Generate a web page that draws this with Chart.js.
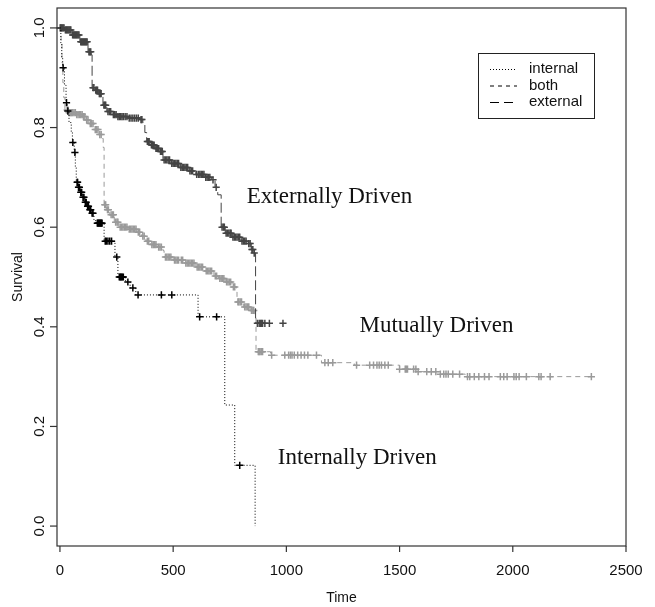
<!DOCTYPE html>
<html>
<head>
<meta charset="utf-8">
<script src="https://cdn.jsdelivr.net/npm/chart.js@4.4.0/dist/chart.umd.min.js"></script>
<style>
body { margin: 0; background: #fff; }
</style>
</head>
<body>
<canvas id="survChart" width="655" height="607"></canvas>
<script>
// Kaplan-Meier steps: event times and survival just after each event
var internalTimes = [0, 4, 8, 12, 20, 27, 33, 40, 50, 55, 63, 68, 72, 80, 90, 100, 110, 120, 130, 140, 150, 158, 195, 243, 256, 290, 310, 335, 610, 728, 772, 862];
var internalSurv  = [1.0, 0.97, 0.94, 0.92, 0.885, 0.85, 0.833, 0.81, 0.79, 0.77, 0.75, 0.72, 0.69, 0.68, 0.67, 0.66, 0.65, 0.642, 0.635, 0.628, 0.615, 0.608, 0.572, 0.54, 0.5, 0.49, 0.478, 0.464, 0.42, 0.243, 0.122, 0.0];
var internalCensor = [14, 29, 35, 57, 66, 76, 78, 82, 86, 92, 96, 102, 106, 112, 116, 122, 126, 132, 136, 142, 146, 165, 168, 171, 174, 177, 180, 183, 186, 200, 205, 212, 220, 228, 251, 262, 266, 269, 272, 276, 280, 300, 322, 345, 448, 494, 617, 692, 794];

var bothTimes = [0, 5, 9, 13, 17, 22, 40, 70, 100, 115, 130, 150, 170, 185, 191, 195, 205, 220, 240, 260, 300, 340, 360, 380, 400, 430, 455, 460, 500, 550, 600, 640, 680, 700, 730, 760, 780, 782, 810, 840, 860, 866, 930, 1155, 1300, 1500, 1580, 1680, 1790, 2347];
var bothSurv  = [1.0, 0.97, 0.93, 0.89, 0.86, 0.835, 0.83, 0.826, 0.822, 0.815, 0.808, 0.796, 0.786, 0.778, 0.76, 0.645, 0.635, 0.625, 0.61, 0.6, 0.596, 0.59, 0.582, 0.572, 0.565, 0.56, 0.553, 0.54, 0.534, 0.528, 0.52, 0.512, 0.502, 0.497, 0.49, 0.48, 0.47, 0.45, 0.44, 0.433, 0.426, 0.35, 0.343, 0.328, 0.323, 0.315, 0.31, 0.305, 0.3, 0.3];
var bothCensor = [1, 3, 32, 36, 40, 44, 48, 52, 56, 62, 68, 74, 80, 86, 92, 98, 104, 110, 118, 124, 134, 140, 146, 156, 162, 168, 176, 182,
  198, 202, 210, 214, 226, 232, 236, 246, 252, 256, 266, 272, 278, 284, 290, 296, 306, 312, 318, 324, 330, 336, 346, 352, 366, 372, 386, 392, 406, 412, 418, 424, 436, 442, 448,
  466, 472, 478, 484, 490, 506, 512, 518, 524, 536, 542, 556, 562, 568, 574, 580, 586, 592, 606, 612, 618, 624, 630, 646, 652, 658, 664, 670, 686, 692, 706, 712, 718, 724,
  736, 742, 748, 754, 766, 772, 786, 790, 796, 802, 816, 822, 828, 834, 846, 852, 856,
  876, 880, 884, 890, 895, 935, 993, 1010, 1018, 1025, 1035, 1050, 1065, 1080, 1095, 1133, 1170, 1185, 1205, 1310, 1368, 1385, 1400, 1410, 1420, 1435, 1450, 1500,
  1525, 1530, 1535, 1562, 1572, 1582, 1620, 1640, 1660, 1680, 1695, 1705, 1715, 1735, 1765, 1800, 1810, 1830, 1850, 1875, 1895, 1945, 1960, 1975, 2005, 2015, 2028, 2060, 2115, 2125, 2165, 2347];

var externalTimes = [0, 22, 53, 88, 124, 138, 142, 154, 170, 185, 190, 207, 230, 251, 300, 353, 366, 375, 383, 400, 420, 440, 455, 490, 530, 570, 600, 640, 670, 685, 697, 712, 730, 760, 800, 830, 845, 855, 864];
var externalSurv  = [1.0, 0.996, 0.986, 0.972, 0.952, 0.946, 0.88, 0.875, 0.868, 0.862, 0.845, 0.832, 0.826, 0.822, 0.819, 0.816, 0.81, 0.79, 0.772, 0.765, 0.758, 0.752, 0.735, 0.728, 0.72, 0.713, 0.706, 0.7, 0.695, 0.68, 0.665, 0.6, 0.588, 0.58, 0.572, 0.567, 0.555, 0.548, 0.407];
var externalCensor = [2, 6, 10, 14, 18, 24, 28, 32, 36, 40, 44, 48, 56, 60, 64, 68, 72, 76, 80, 84, 92, 96, 100, 104, 108, 112, 116, 120, 128, 132, 136,
  146, 150, 158, 162, 166, 174, 178, 182, 194, 198, 202, 212, 218, 224, 236, 242, 248, 256, 262, 268, 274, 280, 288, 296, 306, 314, 322, 330, 338, 346, 358, 362,
  386, 390, 394, 404, 408, 412, 416, 424, 428, 432, 436, 444, 448, 452,
  460, 466, 472, 478, 484, 494, 500, 506, 512, 518, 524, 534, 540, 546, 552, 558, 564, 574, 580, 586, 604, 612, 618, 624, 630, 636, 644, 650, 656, 662, 676, 690,
  716, 722, 726, 734, 740, 746, 752, 756, 764, 770, 776, 782, 788, 794, 804, 810, 816, 822, 834, 840, 848, 852, 858,
  872, 880, 886, 890, 895, 905, 925, 985];

var xTicks = [0, 500, 1000, 1500, 2000, 2500];
var yTicks = [0.0, 0.2, 0.4, 0.6, 0.8, 1.0];
var yTickLabels = ["0.0", "0.2", "0.4", "0.6", "0.8", "1.0"];
var legendLabels = ["internal", "both", "external"];
var noteTexts = ["Externally Driven", "Mutually Driven", "Internally Driven"];
var noteX = [825, 1323, 962];
var noteY = [0.649, 0.39, 0.125];

var colInternal = '#000000';
var colBoth = '#9a9a9a';
var colExternal = '#444444';
var dashInternal = [1, 2];
var dashBoth = [5, 4];
var dashExternal = [10, 4];

function kmPoints(times, surv)
{
    var pts = [];
    for (var i = 0; i < times.length; i++)
    {
        pts.push({x: times[i], y: surv[i]});
    }
    return pts;
}

// y of each censor mark is the curve value at that time
function censorPoints(times, surv, cens)
{
    var pts = [];
    for (var c = 0; c < cens.length; c++)
    {
        var s = surv[0];
        for (var i = 0; i < times.length; i++)
        {
            if (times[i] <= cens[c]) s = surv[i];
        }
        pts.push({x: cens[c], y: s});
    }
    return pts;
}

function curve(label, pts, col, dash)
{
    return {label: label, data: pts, borderColor: col, borderWidth: 1, borderDash: dash,
            stepped: 'before', pointRadius: 0, fill: false, clip: 2};
}

function marks(label, pts, col)
{
    return {label: label, data: pts, showLine: false, borderColor: col, backgroundColor: col,
            pointStyle: 'cross', pointRadius: 3.6, borderWidth: 1.5, clip: 4};
}

var rFrame = {
    id: 'rFrame',
    afterDraw: function (chart) {
        var ctx = chart.ctx;
        var area = chart.chartArea;
        var xs = chart.scales.x;
        var ys = chart.scales.y;
        ctx.save();
        ctx.strokeStyle = '#333';
        ctx.lineWidth = 1.2;
        ctx.strokeRect(area.left, area.top, area.right - area.left, area.bottom - area.top);

        ctx.fillStyle = '#111';
        ctx.font = '15px "Liberation Sans", Arial, sans-serif';
        ctx.textAlign = 'center';
        ctx.textBaseline = 'middle';
        xTicks.forEach(function (t) {
            var px = xs.getPixelForValue(t);
            ctx.beginPath();
            ctx.moveTo(px, area.bottom);
            ctx.lineTo(px, area.bottom + 6);
            ctx.stroke();
            ctx.fillText(String(t), px, area.bottom + 25);
        });
        yTicks.forEach(function (v, i) {
            var py = ys.getPixelForValue(v);
            ctx.beginPath();
            ctx.moveTo(area.left, py);
            ctx.lineTo(area.left - 7, py);
            ctx.stroke();
            ctx.save();
            ctx.translate(area.left - 17, py);
            ctx.rotate(-Math.PI / 2);
            ctx.fillText(yTickLabels[i], 0, 0);
            ctx.restore();
        });
        ctx.font = '14px "Liberation Sans", Arial, sans-serif';
        ctx.fillText('Time', (area.left + area.right) / 2, area.bottom + 52);
        ctx.save();
        ctx.translate(18, (area.top + area.bottom) / 2);
        ctx.rotate(-Math.PI / 2);
        ctx.fillText('Survival', 0, 0);
        ctx.restore();

        // curve names
        ctx.font = '23px "Liberation Serif", "Times New Roman", serif';
        ctx.textAlign = 'left';
        ctx.textBaseline = 'alphabetic';
        for (var n = 0; n < noteTexts.length; n++)
        {
            ctx.fillText(noteTexts[n], xs.getPixelForValue(noteX[n]), ys.getPixelForValue(noteY[n]));
        }

        // legend box
        var lx = 478, ly = 53, lw = 116, lh = 65;
        ctx.lineWidth = 1;
        ctx.strokeStyle = '#222';
        ctx.strokeRect(lx + 0.5, ly + 0.5, lw, lh);
        var dashes = [dashInternal, [4, 4], [9, 5]];
        ctx.font = '15px "Liberation Sans", Arial, sans-serif';
        ctx.textBaseline = 'middle';
        for (var k = 0; k < legendLabels.length; k++)
        {
            var yy = ly + 16 + k * 16.5;
            ctx.setLineDash(dashes[k]);
            ctx.strokeStyle = '#000';
            ctx.beginPath();
            ctx.moveTo(lx + 12, yy + 0.5);
            ctx.lineTo(lx + 39, yy + 0.5);
            ctx.stroke();
            ctx.setLineDash([]);
            ctx.fillText(legendLabels[k], lx + 51, yy);
        }
        ctx.restore();
    }
};

var survChart = new Chart(document.getElementById('survChart'), {
    type: 'line',
    data: {
        datasets: [
            marks('internal marks', censorPoints(internalTimes, internalSurv, internalCensor), colInternal),
            curve('internal', kmPoints(internalTimes, internalSurv), colInternal, dashInternal),
            marks('external marks', censorPoints(externalTimes, externalSurv, externalCensor), colExternal),
            curve('external', kmPoints(externalTimes, externalSurv), colExternal, dashExternal),
            marks('both marks', censorPoints(bothTimes, bothSurv, bothCensor), colBoth),
            curve('both', kmPoints(bothTimes, bothSurv), colBoth, dashBoth)
        ]
    },
    options: {
        responsive: false,
        animation: false,
        events: [],
        layout: { padding: { left: 57, top: 8, right: 29, bottom: 61 } },
        scales: {
            x: { type: 'linear', min: -13, max: 2500, display: false },
            y: { type: 'linear', min: -0.04, max: 1.04, display: false }
        },
        plugins: {
            legend: { display: false },
            tooltip: { enabled: false }
        }
    },
    plugins: [rFrame]
});
</script>
</body>
</html>
